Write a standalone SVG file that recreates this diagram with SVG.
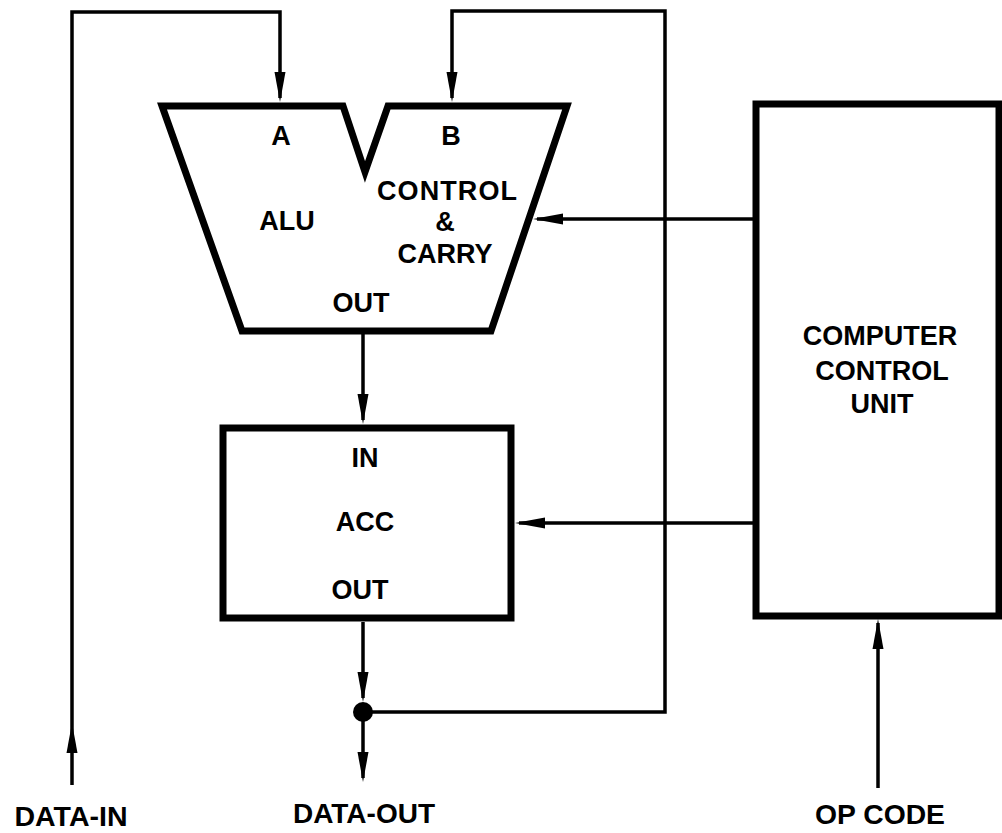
<svg xmlns="http://www.w3.org/2000/svg" width="1002" height="833" viewBox="0 0 1002 833">
<style>
.blk{fill:none;stroke:#000;stroke-width:7;stroke-linejoin:miter}
.ln{fill:none;stroke:#000;stroke-width:3.5;stroke-linejoin:miter}
.t{font-family:"Liberation Sans",Arial,Helvetica,sans-serif;font-weight:bold;font-size:27px;fill:#000;text-anchor:middle}
.b{font-size:28px}
</style>
<defs>
<marker id="ah" markerUnits="userSpaceOnUse" markerWidth="30" markerHeight="12" refX="26" refY="6" orient="auto" overflow="visible">
<path d="M0,0.5 L30,6 L0,11.5 z" fill="#000"/>
</marker>
</defs>
<rect width="1002" height="833" fill="#fff"/>
<g id="connectors">
<path class="ln" d="M72,785 L72,727" marker-end="url(#ah)"/>
<path class="ln" d="M72,727 L72,12 L280,12 L280,98" marker-end="url(#ah)"/>
<path class="ln" d="M363,334 L363,420" marker-end="url(#ah)"/>
<path class="ln" d="M363,622 L363,698" marker-end="url(#ah)"/>
<path class="ln" d="M363,712 L363,778" marker-end="url(#ah)"/>
<path class="ln" d="M363,712 L665,712 L665,11 L452,11 L452,98" marker-end="url(#ah)"/>
<path class="ln" d="M753,219 L537,219" marker-end="url(#ah)"/>
<path class="ln" d="M753,523 L519,523" marker-end="url(#ah)"/>
<path class="ln" d="M878,788 L878,623" marker-end="url(#ah)"/>
<circle cx="363" cy="712" r="10" fill="#000"/>
</g>
<g id="alu">
<path class="blk" d="M162,106 L343,106 L365,172 L388,106 L567,106 L491,331 L242,331 Z"/>
<text class="t" x="281" y="145">A</text>
<text class="t" x="451" y="145">B</text>
<text class="t" x="287" y="230">ALU</text>
<text class="t" x="447" y="200" textLength="140">CONTROL</text>
<text class="t" x="445" y="231">&amp;</text>
<text class="t" x="445" y="263">CARRY</text>
<text class="t" x="361" y="312">OUT</text>
</g>
<g id="acc">
<rect class="blk" x="223" y="428" width="288" height="190"/>
<text class="t" x="365" y="467">IN</text>
<text class="t" x="365" y="531">ACC</text>
<text class="t" x="360" y="599">OUT</text>
</g>
<g id="ccu">
<rect class="blk" x="756" y="104" width="243" height="512"/>
<text class="t" x="880" y="345">COMPUTER</text>
<text class="t" x="882" y="380">CONTROL</text>
<text class="t" x="882" y="413">UNIT</text>
</g>
<g id="labels">
<text class="t b" x="71" y="826" textLength="113" lengthAdjust="spacingAndGlyphs">DATA-IN</text>
<text class="t b" x="364" y="823" textLength="142" lengthAdjust="spacingAndGlyphs">DATA-OUT</text>
<text class="t b" x="880" y="824" textLength="130" lengthAdjust="spacingAndGlyphs">OP CODE</text>
</g>
</svg>
